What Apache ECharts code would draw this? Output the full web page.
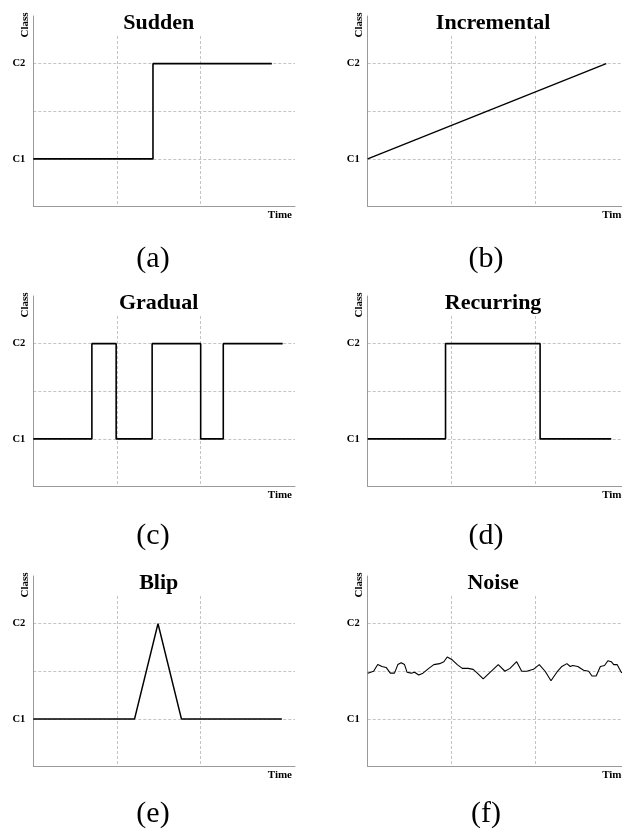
<!DOCTYPE html>
<html>
<head>
<meta charset="utf-8">
<script src="https://cdn.jsdelivr.net/npm/echarts@6/dist/echarts.min.js"></script>
<style>
  html, body { margin: 0; padding: 0; background: #fff; }
  #chart { width: 622px; height: 832px; }
</style>
</head>
<body>
<div id="chart"></div>
<script>
// Six kinds of concept drift, each shown as class label over time.
const panelTitles = ['Sudden', 'Incremental', 'Gradual', 'Recurring', 'Blip', 'Noise'];
const panelCaptions = ['(a)', '(b)', '(c)', '(d)', '(e)', '(f)'];
const classTickLabels = { 1: 'C1', 2: 'C2' };

// [time, class] points; class 1 = C1, class 2 = C2
const sudden = [[0, 1], [1.43, 1], [1.43, 2], [2.85, 2]];
const incremental = [[0, 1], [2.85, 2]];
const gradual = [
  [0, 1], [0.70, 1], [0.70, 2], [0.99, 2], [0.99, 1], [1.42, 1], [1.42, 2],
  [2.00, 2], [2.00, 1], [2.27, 1], [2.27, 2], [2.98, 2]
];
const recurring = [[0, 1], [0.93, 1], [0.93, 2], [2.06, 2], [2.06, 1], [2.91, 1]];
const blip = [[0, 1], [1.21, 1], [1.49, 2], [1.77, 1], [2.97, 1]];
const noise = [
  [0.00, 1.48], [0.07, 1.50], [0.12, 1.57], [0.17, 1.55], [0.22, 1.54], [0.27, 1.48],
  [0.32, 1.48], [0.36, 1.57], [0.40, 1.59], [0.44, 1.57], [0.47, 1.49], [0.52, 1.48],
  [0.56, 1.49], [0.61, 1.46], [0.66, 1.48], [0.73, 1.53], [0.79, 1.57], [0.86, 1.58],
  [0.91, 1.60], [0.95, 1.65], [1.01, 1.62], [1.07, 1.57], [1.13, 1.53], [1.20, 1.53],
  [1.26, 1.52], [1.31, 1.48], [1.38, 1.42], [1.44, 1.47], [1.50, 1.52], [1.56, 1.57],
  [1.64, 1.50], [1.70, 1.53], [1.78, 1.60], [1.84, 1.50], [1.90, 1.50], [1.98, 1.52],
  [2.05, 1.57], [2.12, 1.50], [2.19, 1.40], [2.26, 1.49], [2.32, 1.55], [2.38, 1.58],
  [2.42, 1.55], [2.45, 1.56], [2.51, 1.55], [2.58, 1.51], [2.64, 1.50], [2.68, 1.45],
  [2.73, 1.45], [2.78, 1.55], [2.83, 1.56], [2.87, 1.61], [2.91, 1.60], [2.94, 1.57],
  [2.98, 1.57], [3.03, 1.49], [3.05, 1.47], [3.10, 1.45]
];
const panelSeries = [sudden, incremental, gradual, recurring, blip, noise];
const panelLineWidths = [1.6, 1.3, 1.6, 1.6, 1.5, 1.1];

// Layout of the 3 x 2 panel grid
const PANEL_DX = 334.4, PANEL_DY = 280;
const GRID_LEFT = 33.3, GRID_TOP = 16, GRID_W = 261.7, GRID_H = 190.5;
const TITLE_CENTER = 125.4, TITLE_PAD = 50;
const CAPTION_X = 153, CAPTION_DX = 333, CAPTION_Y = 259, CAPTION_DY = 277.5;

const SERIF = '"Liberation Serif", "Times New Roman", serif';
const AXIS_GRAY = '#9a9a9a';
const GRID_GRAY = '#c4c4c4';

const grids = [], xAxes = [], yAxes = [], titles = [], series = [], captions = [];

panelTitles.forEach((name, i) => {
  const col = i % 2, row = Math.floor(i / 2);
  const left = GRID_LEFT + col * PANEL_DX;
  const top = GRID_TOP + row * PANEL_DY;

  // right-hand panels run past the page edge, so keep the grid unclamped
  grids.push({ left: left, top: top, width: GRID_W, height: GRID_H, containLabel: false, outerBoundsMode: 'none' });

  xAxes.push({
    type: 'value', gridIndex: i, min: 0, max: 3.127, interval: 1,
    axisLine: { show: true, lineStyle: { color: AXIS_GRAY, width: 1 } },
    axisTick: { show: false },
    axisLabel: { show: false },
    // ticks fall at 0, 1, 2, 3 and the axis end: only 1 and 2 get a grid line
    splitLine: {
      show: true,
      lineStyle: { color: ['transparent', GRID_GRAY, GRID_GRAY, 'transparent', 'transparent'], type: [3, 2], width: 1 }
    },
    name: 'Time', nameLocation: 'end', nameGap: -3,
    nameTextStyle: {
      fontFamily: SERIF, fontWeight: 'bold', fontSize: 11, color: '#000',
      align: 'right', verticalAlign: 'top', padding: [3, 0, 0, 0]
    }
  });

  yAxes.push({
    type: 'value', gridIndex: i, min: 0.5, max: 2.5, interval: 0.5,
    axisLine: { show: true, lineStyle: { color: AXIS_GRAY, width: 1 } },
    axisTick: { show: false },
    axisLabel: {
      formatter: v => classTickLabels[v] || '',
      fontFamily: SERIF, fontWeight: 'bold', fontSize: 10.5, color: '#000', margin: 8
    },
    // ticks at 0.5, 1, 1.5, 2, 2.5: lines only on the three inner ones
    splitLine: {
      show: true,
      lineStyle: { color: ['transparent', GRID_GRAY, GRID_GRAY, GRID_GRAY, 'transparent'], type: [3, 2], width: 1 }
    },
    name: 'Class', nameLocation: 'end', nameRotate: 90, nameGap: -9,
    nameTextStyle: {
      fontFamily: SERIF, fontWeight: 'bold', fontSize: 11, color: '#000',
      align: 'center', verticalAlign: 'bottom', padding: [0, 0, 3, 0]
    }
  });

  // white title box also trims the top of the vertical grid lines
  titles.push({
    text: name,
    left: left + TITLE_CENTER - TITLE_PAD, top: top - 10, textAlign: 'center',
    padding: [6, TITLE_PAD, 0, TITLE_PAD],
    backgroundColor: '#fff',
    textStyle: { fontFamily: SERIF, fontWeight: 'bold', fontSize: 22, lineHeight: 22, color: '#000' }
  });

  series.push({
    type: 'line', xAxisIndex: i, yAxisIndex: i,
    data: panelSeries[i],
    symbol: 'none', showSymbol: false, silent: true,
    lineStyle: { color: '#000', width: panelLineWidths[i] },
    z: 3
  });

  captions.push({
    type: 'text',
    x: CAPTION_X + col * CAPTION_DX, y: CAPTION_Y + row * CAPTION_DY,
    style: {
      text: panelCaptions[i], font: '30px ' + SERIF, fill: '#000',
      textAlign: 'center', textVerticalAlign: 'middle'
    }
  });
});

const chart = echarts.init(document.getElementById('chart'), null, { renderer: 'canvas' });
chart.setOption({
  backgroundColor: '#fff',
  animation: false,
  title: titles,
  grid: grids,
  xAxis: xAxes,
  yAxis: yAxes,
  series: series,
  graphic: captions
});
</script>
</body>
</html>
